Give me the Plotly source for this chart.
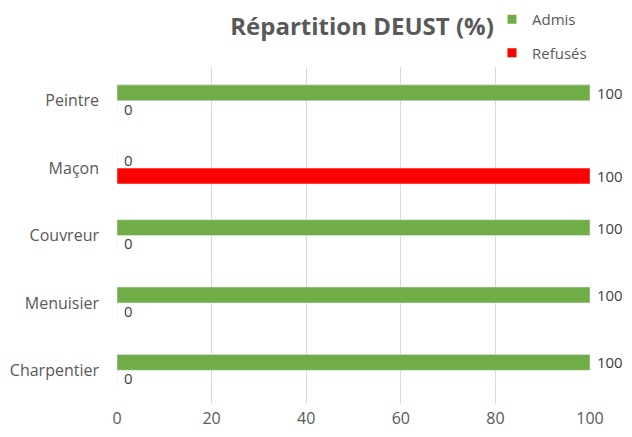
import plotly.graph_objects as go

categories = ["Charpentier", "Menuisier", "Couvreur", "Maçon", "Peintre"]
admis = [100, 100, 100, 0, 100]
refuses = [0, 0, 0, 100, 0]
x_ticks = [0, 20, 40, 60, 80, 100]

FONT = "Open Sans"
GRAY = "#595959"
GREEN = "#70AD47"
RED = "#FF0000"

# the page body adds an 8px offset; size the figure so the page does not overflow
W, H = 624, 421
L, R, T, B = 109, 42, 59, 25
plot_h = H - T - B

fig = go.Figure()
fig.add_trace(go.Bar(
    y=categories, x=refuses, name="Refusés", orientation="h",
    marker=dict(color=RED), text=[" " + str(v) for v in refuses],
    textposition="outside", constraintext="none",
    textfont=dict(color="#404040", size=15, family=FONT), cliponaxis=False,
    showlegend=False,
))
fig.add_trace(go.Bar(
    y=categories, x=admis, name="Admis", orientation="h",
    marker=dict(color=GREEN), text=[" " + str(v) for v in admis],
    textposition="outside", constraintext="none",
    textfont=dict(color="#404040", size=15, family=FONT), cliponaxis=False,
    showlegend=False,
))
# legend entries
fig.add_trace(go.Scatter(x=[None], y=[None], mode="markers", name="Admis",
                         marker=dict(symbol="square", size=9, color=GREEN),
                         legendgroup="a", showlegend=True))
fig.add_trace(go.Scatter(x=[None], y=[None], mode="markers", name="Refusés",
                         marker=dict(symbol="square", size=9, color=RED),
                         legendgroup="b", showlegend=True))

fig.update_layout(
    width=W, height=H,
    margin=dict(l=L, r=R, t=T, b=B, autoexpand=False),
    paper_bgcolor="white", plot_bgcolor="white",
    barmode="group", bargap=0.53, bargroupgap=0,
    font=dict(family=FONT, color=GRAY, size=16),
    title=dict(text="<b>Répartition DEUST (%)</b>", x=354/W, xanchor="center",
               xref="container",
               y=1-19/H, yanchor="middle", yref="container",
               font=dict(size=24, color=GRAY, family=FONT)),
    legend=dict(x=484/W, y=(T + plot_h + 5)/plot_h, xref="container", yref="paper",
                xanchor="left", yanchor="top", bgcolor="rgba(0,0,0,0)",
                traceorder="grouped", tracegroupgap=11,
                font=dict(size=15, color=GRAY, family=FONT)),
    xaxis=dict(range=[0, 100], tickvals=x_ticks, showgrid=True, gridcolor="#D9D9D9",
               gridwidth=1, zeroline=False, showline=False, ticks="",
               automargin=False, ticklabelstandoff=3,
               tickfont=dict(size=16, color=GRAY, family=FONT)),
    yaxis=dict(showgrid=False, zeroline=False, showline=False, ticks="",
               automargin=False, ticklabelstandoff=17,
               tickfont=dict(size=16, color=GRAY, family=FONT)),
)

fig.write_html("out.html")
